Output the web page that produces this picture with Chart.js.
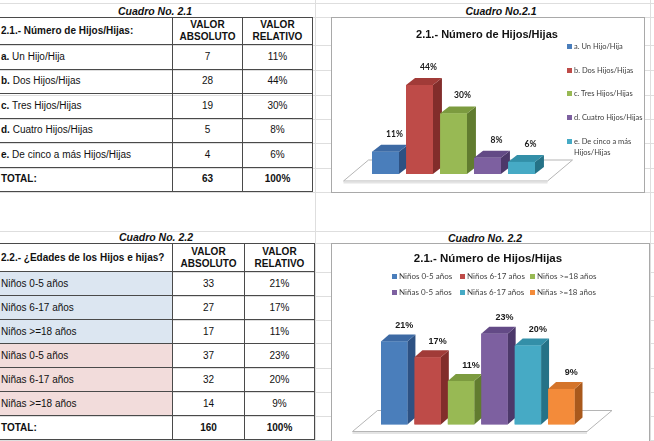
<!DOCTYPE html>
<html>
<head>
<meta charset="utf-8">
<script src="https://cdn.jsdelivr.net/npm/chart.js@4.4.1/dist/chart.umd.min.js"></script>
<style>
    body { margin: 0; width: 654px; height: 441px; overflow: hidden; background: #fff; position: relative;
           font-family: "Liberation Sans", Arial, sans-serif; color: #111; }
    .linea-h { position: absolute; height: 1px; background: #dedede; }
    .linea-v { position: absolute; width: 1px; background: #dedede; }
    .tabla { position: absolute; display: grid; border-top: 1px solid #4a4a4a; border-left: 1px solid #4a4a4a; }
    .tabla div { box-sizing: border-box; border-right: 1px solid #4a4a4a; border-bottom: 1px solid #4a4a4a;
                 font-size: 10px; display: flex; align-items: center; justify-content: center;
                 text-align: center; line-height: 1.2; white-space: nowrap; }
    .tabla div.cat { justify-content: flex-start; padding-left: 3px; text-align: left; }
    .tabla div.hd { font-weight: bold; }
    .cuadro { position: absolute; width: 200px; margin-left: -100px; text-align: center;
              font: italic bold 10.5px "Liberation Sans", Arial, sans-serif; line-height: 12px; }
    .caja { position: absolute; box-sizing: border-box; border: 1px solid #a9a9a9; background: #fff; }
    .caja canvas { position: absolute; left: 0; top: 0; }
    .titulo { position: absolute; width: 240px; margin-left: -120px; text-align: center; white-space: nowrap;
              font-weight: bold; line-height: 14px; }
    .item { position: absolute; font-family: Lato, "Open Sans", sans-serif; color: #404040; line-height: 11px; }
    .item i { position: absolute; left: -7px; top: 3px; width: 5px; height: 5px; }
</style>
</head>
<body>

<div id="fondo"></div>

<div class="cuadro" style="left:155px; top:5px;">Cuadro No. 2.1</div>
<div class="tabla" id="tabla21" style="left:-3px; top:17px;"></div>

<div class="cuadro" style="left:501px; top:5px;">Cuadro No.2.1</div>
<div class="caja" id="caja21" style="left:331px; top:17px; width:314px; height:176px;">
    <canvas id="grafica21" width="312" height="174"></canvas>
</div>

<div class="cuadro" style="left:156px; top:231px;">Cuadro No. 2.2</div>
<div class="tabla" id="tabla22" style="left:-3px; top:243px;"></div>

<div class="cuadro" style="left:485px; top:232px;">Cuadro No. 2.2</div>
<div class="caja" id="caja22" style="left:331px; top:243px; width:319px; height:210px;">
    <canvas id="grafica22" width="317" height="197"></canvas>
</div>

<script>
// ---- Datos: Cuadro 2.1 ----
const categorias21 = ['a. Un Hijo/Hija', 'b. Dos Hijos/Hijas', 'c. Tres Hijos/Hijas', 'd. Cuatro Hijos/Hijas', 'e. De cinco a más Hijos/Hijas'];
const absoluto21 = [7, 28, 19, 5, 4];
const relativo21 = [11, 44, 30, 8, 6];
const total21 = ['63', '100%'];

// ---- Datos: Cuadro 2.2 ----
const categorias22 = ['Niños 0-5 años', 'Niños 6-17 años', 'Niños >=18 años', 'Niñas 0-5 años', 'Niñas 6-17 años', 'Niñas >=18 años'];
const absoluto22 = [33, 27, 17, 37, 32, 14];
const relativo22 = [21, 17, 11, 23, 20, 9];
const total22 = ['160', '100%'];

// colores estilo Office: frente, tapa, lado
const colores = [
    { frente: '#4a7ebb', tapa: '#3d6aa4', lado: '#2d5183' },
    { frente: '#be4b48', tapa: '#a13b38', lado: '#822d2b' },
    { frente: '#98b954', tapa: '#7c9b3f', lado: '#617c2f' },
    { frente: '#7d60a0', tapa: '#634a86', lado: '#4c386a' },
    { frente: '#46aac5', tapa: '#338fa8', lado: '#257287' },
    { frente: '#f38b3a', tapa: '#d4742a', lado: '#a9591c' }
];

// ---- Líneas de cuadrícula de la hoja ----
const fondo = document.getElementById('fondo');
[3, 17, 45, 70, 95, 119, 143, 168, 192, 231, 243, 272, 296, 320, 343, 368, 392, 416, 440].forEach(y => {
    const d = document.createElement('div');
    d.className = 'linea-h';
    d.style.cssText = `left:0; top:${y}px; width:654px;`;
    fondo.appendChild(d);
});
[315, 650].forEach(x => {
    const d = document.createElement('div');
    d.className = 'linea-v';
    d.style.cssText = `left:${x}px; top:0; height:441px;`;
    fondo.appendChild(d);
});

// ---- Tablas ----
function celda(tabla, html, clase, fondoColor) {
    const d = document.createElement('div');
    d.innerHTML = '<span>' + html + '</span>';
    if (clase) d.className = clase;
    if (fondoColor) d.style.background = fondoColor;
    tabla.appendChild(d);
}

function crearTabla(id, columnas, filas, encabezado, categorias, absoluto, relativo, total, conLetra, fondos) {
    const tabla = document.getElementById(id);
    tabla.style.gridTemplateColumns = columnas.map(c => c + 'px').join(' ');
    tabla.style.gridTemplateRows = filas.map(f => f + 'px').join(' ');

    celda(tabla, encabezado, 'cat hd');
    celda(tabla, 'VALOR<br>ABSOLUTO', 'hd');
    celda(tabla, 'VALOR<br>RELATIVO', 'hd');

    categorias.forEach((cat, i) => {
        let texto = cat;
        if (conLetra) {
            const p = cat.indexOf(' ');
            texto = '<b>' + cat.slice(0, p) + '</b>' + cat.slice(p);
        }
        celda(tabla, texto, 'cat', fondos ? fondos[i] : null);
        celda(tabla, absoluto[i]);
        celda(tabla, relativo[i] + '%');
    });

    celda(tabla, 'TOTAL:', 'cat hd');
    celda(tabla, total[0], 'hd');
    celda(tabla, total[1], 'hd');
}

crearTabla('tabla21', [175, 70, 70], [27, 24.5, 24.5, 24.5, 24.5, 24.5, 24.5],
    '2.1.- Número de Hijos/Hijas:', categorias21, absoluto21, relativo21, total21, true, null);

crearTabla('tabla22', [175, 72, 70], [28, 24, 24, 24, 24, 24, 24, 24],
    '2.2.- ¿Edades de los Hijos e hijas?', categorias22, absoluto22, relativo22, total22, false,
    ['#dce6f1', '#dce6f1', '#dce6f1', '#f2dcdb', '#f2dcdb', '#f2dcdb']);

// ---- Plugin: barras con efecto 3D, piso y etiquetas ----
function poligono(ctx, puntos) {
    ctx.beginPath();
    ctx.moveTo(puntos[0][0], puntos[0][1]);
    puntos.slice(1).forEach(p => ctx.lineTo(p[0], p[1]));
    ctx.closePath();
    ctx.fill();
}

const barras3D = {
    id: 'barras3D',

    beforeDatasetsDraw(chart) {
        const ctx = chart.ctx;
        const { left, right } = chart.chartArea;
        const base = chart.scales.y.getPixelForValue(0);
        ctx.save();
        ctx.beginPath();
        ctx.moveTo(left - 25, base + 7);
        ctx.lineTo(right + 9, base + 7);
        ctx.lineTo(right + 34, base - 14);
        ctx.lineTo(left, base - 14);
        ctx.closePath();
        ctx.fillStyle = '#ffffff';
        ctx.fill();
        ctx.strokeStyle = '#b5b5b5';
        ctx.lineWidth = 1;
        ctx.stroke();
        ctx.fillStyle = '#e4e4e4';
        ctx.fillRect(left - 25, base + 7.5, right - left + 34, 2);
        ctx.restore();
    },

    afterDatasetsDraw(chart, args, opts) {
        const ctx = chart.ctx;
        const dx = opts.dx, dy = opts.dy;
        ctx.save();
        chart.data.datasets.forEach((ds, i) => {
            const c = colores[i];
            chart.getDatasetMeta(i).data.forEach(bar => {
                const { x, y, base, width } = bar.getProps(['x', 'y', 'base', 'width'], true);
                const l = x - width / 2, r = x + width / 2;
                ctx.fillStyle = c.lado;
                poligono(ctx, [[r, y], [r + dx, y - dy], [r + dx, base - dy], [r, base]]);
                ctx.fillStyle = c.tapa;
                poligono(ctx, [[l, y], [r, y], [r + dx, y - dy], [l + dx, y - dy]]);
                ctx.fillStyle = c.frente;
                ctx.fillRect(l, y, width, base - y);
            });
        });

        // etiquetas de valor
        ctx.fillStyle = '#1a1a1a';
        ctx.font = opts.fuente;
        ctx.textAlign = 'center';
        ctx.textBaseline = 'middle';
        chart.data.datasets.forEach((ds, i) => {
            chart.getDatasetMeta(i).data.forEach((bar, j) => {
                const { x, y } = bar.getProps(['x', 'y'], true);
                ctx.fillText(ds.data[j] + '%', x + opts.lx, y + opts.ly);
            });
        });
        ctx.restore();
    }
};

function crearGrafica(idCanvas, categorias, valores, maxY, padding, etiqueta) {
    const canvas = document.getElementById(idCanvas);
    return new Chart(canvas.getContext('2d'), {
        type: 'bar',
        data: {
            labels: [''],
            datasets: categorias.map((cat, i) => ({
                label: cat,
                data: [valores[i]],
                backgroundColor: colores[i].frente,
                borderWidth: 0,
                categoryPercentage: 1,
                barPercentage: 0.79
            }))
        },
        options: {
            responsive: false,
            animation: false,
            layout: { padding },
            plugins: {
                legend: { display: false },
                title: { display: false },
                tooltip: { enabled: false },
                barras3D: etiqueta
            },
            scales: {
                x: { display: false },
                y: { display: false, min: 0, max: maxY }
            }
        },
        plugins: [barras3D]
    });
}

const graf21 = crearGrafica('grafica21', categorias21, relativo21, 50,
    { left: 36.5, right: 105.5, top: 55, bottom: 18 },
    { dx: 9, dy: 7, lx: 9, ly: -18, fuente: 'bold 8.5px Lato, "Liberation Sans", sans-serif' });

const graf22 = crearGrafica('grafica22', categorias22, relativo22, 25,
    { left: 45.5, right: 71, top: 81.75, bottom: 16.5 },
    { dx: 8, dy: 7, lx: 10, ly: -16, fuente: 'bold 9px "Liberation Sans", Arial, sans-serif' });

// ---- Títulos y leyendas (texto HTML sobre la caja de cada gráfica) ----
function titulo(chart, texto, cx, cy, tam) {
    const d = document.createElement('div');
    d.className = 'titulo';
    d.textContent = texto;
    d.style.cssText = `left:${cx}px; top:${cy - 7}px; font-size:${tam}px;`;
    document.body.appendChild(d);
}

function leyenda(chart, posiciones, tam, ancho) {
    chart.data.datasets.forEach((ds, i) => {
        const p = posiciones[i];
        const d = document.createElement('div');
        d.className = 'item';
        d.style.cssText = `left:${p[0] + 7}px; top:${p[1] - 5.5}px; font-size:${tam}px;` +
            (ancho ? `width:${ancho}px;` : 'white-space:nowrap;');
        d.innerHTML = `<i style="background:${ds.backgroundColor}"></i>`;
        d.appendChild(document.createTextNode(ds.label));
        document.body.appendChild(d);
    });
}

titulo(graf21, '2.1.- Número de Hijos/Hijas', 487, 34, 11);
leyenda(graf21, [[567, 46], [567, 70], [567, 93], [567, 117], [567, 141]], 7.5, 76);

titulo(graf22, '2.1.- Número de Hijos/Hijas', 488, 258, 11.5);
leyenda(graf22, [[392, 276], [460, 276], [530, 276], [392, 292], [460, 292], [530, 292]], 8, null);
</script>
</body>
</html>
